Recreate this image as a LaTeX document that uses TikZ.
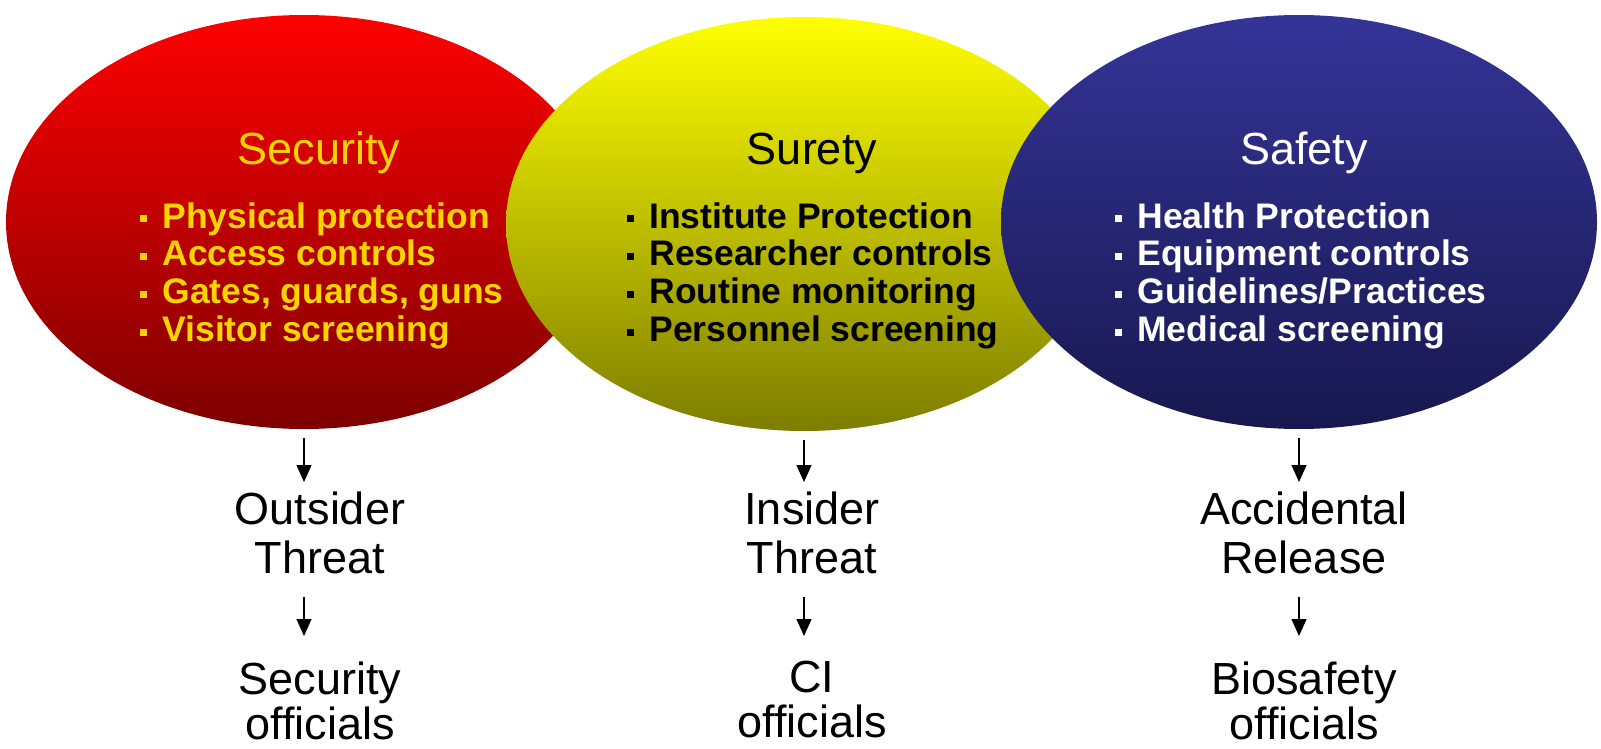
\documentclass[tikz,border=0pt]{standalone}
\usepackage{fontspec}
\setmainfont{Liberation Sans}
\usetikzlibrary{shapes.geometric,arrows.meta}
\definecolor{redT}{RGB}{255,0,0}
\definecolor{redM}{RGB}{232,0,0}
\definecolor{redB}{RGB}{125,0,0}
\definecolor{yelT}{RGB}{255,255,0}
\definecolor{yelM}{RGB}{218,218,0}
\definecolor{yelB}{RGB}{125,125,0}
\definecolor{bluT}{RGB}{52,52,152}
\definecolor{bluM}{RGB}{38,38,122}
\definecolor{bluB}{RGB}{24,24,80}
\definecolor{goldtxt}{RGB}{255,212,0}
\newcommand\bdot{\raisebox{2.9pt}{\rule{3.5pt}{3.5pt}}\hspace{7.5pt}}
\begin{document}
\begin{tikzpicture}[x=0.5pt,y=-0.5pt,
  blob/.style={ellipse, minimum width=298pt, minimum height=207pt, inner sep=0pt},
  ttl/.style={anchor=base, inner sep=0pt, font=\fontsize{22.5pt}{24.5pt}\selectfont},
  blist/.style={anchor=north west, align=left, inner sep=0pt, font=\fontsize{17.75pt}{18.9pt}\selectfont\bfseries},
  low/.style={anchor=north, align=center, inner sep=0pt, font=\fontsize{22.5pt}{24.5pt}\selectfont},
  lowb/.style={anchor=north, align=center, inner sep=0pt, font=\fontsize{22.5pt}{22.5pt}\selectfont},
  arr/.style={line width=0.6pt, -{Triangle[length=8.5pt,width=7.5pt]}}]
\useasboundingbox (0,0) rectangle (1601,749);
% ellipses
\node[blob, top color=redT, middle color=redM, bottom color=redB] (red) at (304,222) {};
\node[blob, top color=yelT, middle color=yelM, bottom color=yelB] (yel) at (804,224) {};
\node[blob, top color=bluT, middle color=bluM, bottom color=bluB] (blu) at (1299,222) {};
% titles
\node[ttl, text=goldtxt] (t1) at (319,164) {Security};
\node[ttl, text=black] (t2) at (812,164) {Surety};
\node[ttl, text=white] (t3) at (1304,164) {Safety};
% bullet lists
\node[blist, text=goldtxt] (b1) at (140,202) {\bdot Physical protection\\\bdot Access controls\\\bdot Gates, guards, guns\\\bdot Visitor screening};
\node[blist, text=black] (b2) at (627,202) {\bdot Institute Protection\\\bdot Researcher controls\\\bdot Routine monitoring\\\bdot Personnel screening};
\node[blist, text=white] (b3) at (1115,202) {\bdot Health Protection\\\bdot Equipment controls\\\bdot Guidelines/Practices\\\bdot Medical screening};
% lower texts
\node[low] (o1) at (320,491) {Outsider\\Threat};
\node[low] (o2) at (812,491) {Insider\\Threat};
\node[low] (o3) at (1304,491) {Accidental\\Release};
\node[lowb] (p1) at (320,661) {Security\\officials};
\node[lowb] (p2) at (812,661) {CI\\officials};
\node[lowb] (p3) at (1304,661) {Biosafety\\officials};
% arrows
\draw[arr, shorten <=4.5pt, shorten >=4.5pt] (red.south) -- (red.south |- o1.north);
\draw[arr, shorten <=4.5pt, shorten >=4.5pt] (yel.south) -- (yel.south |- o2.north);
\draw[arr, shorten <=4.5pt, shorten >=4.5pt] (blu.south) -- (blu.south |- o3.north);
\draw[arr, shorten <=11.5pt, shorten >=12.5pt] (red.south |- o1.south) -- (red.south |- p1.north);
\draw[arr, shorten <=11.5pt, shorten >=12.5pt] (yel.south |- o2.south) -- (yel.south |- p2.north);
\draw[arr, shorten <=11.5pt, shorten >=12.5pt] (blu.south |- o3.south) -- (blu.south |- p3.north);
\end{tikzpicture}
\end{document}
